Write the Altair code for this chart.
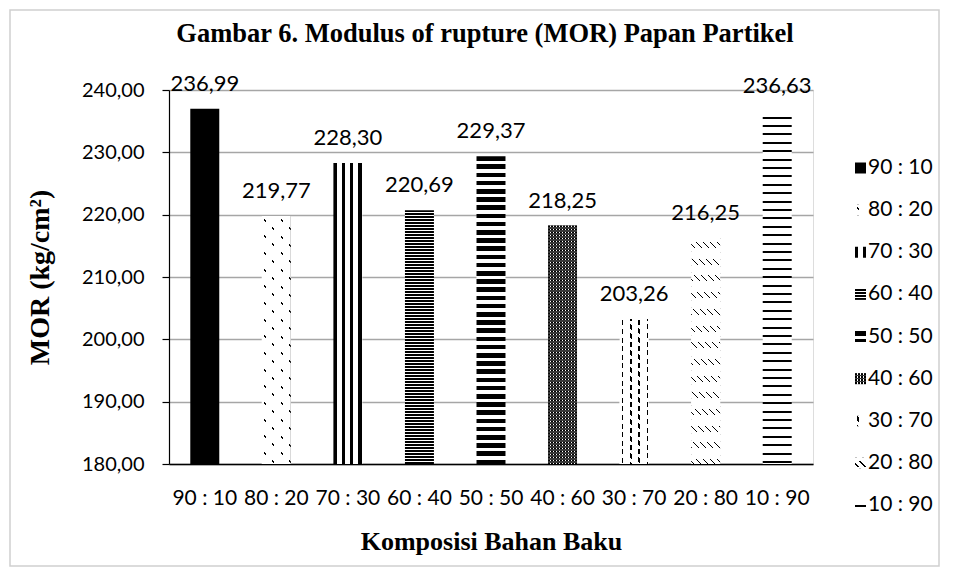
import math
import altair as alt
import pandas as pd

# ---------------- data ----------------
chart_title = "Gambar 6. Modulus of rupture (MOR) Papan Partikel"
categories = ["90 : 10", "80 : 20", "70 : 30", "60 : 40", "50 : 50",
              "40 : 60", "30 : 70", "20 : 80", "10 : 90"]
mor_values = [236.99, 219.77, 228.30, 220.69, 229.37, 218.25, 203.26, 216.25, 236.63]
y_ticks = [180, 190, 200, 210, 220, 230, 240]

value_labels = [f"{v:.2f}".replace(".", ",") for v in mor_values]
df = pd.DataFrame({"cat": categories, "value": mor_values, "label": value_labels})

# ---------------- layout / style ----------------
PLOT_W, PLOT_H = 644, 374
Y_MIN, Y_MAX = 180, 240
P_INNER = 0.595
BAND_W = PLOT_W / len(categories) * (1 - P_INNER)
B, W, T = "black", "white", "rgba(255,255,255,0)"


def stripe_grad(w, h, nx, ny, period, on, phase, on_color, off_color):
    """Linear gradient (objectBoundingBox) drawing stripes of a given pixel period."""
    corners = [(0, 0), (1, 0), (0, 1), (1, 1)]
    svals = [nx * cx * w + ny * cy * h for cx, cy in corners]
    smin, smax = min(svals), max(svals)
    S = smax - smin
    p1 = corners[svals.index(smin)]
    vx, vy = nx * w, ny * h
    c = S / (vx * vx + vy * vy)
    x1, y1 = p1
    x2, y2 = x1 + c * vx, y1 + c * vy
    stops = [(0.0, off_color)]
    k = math.floor((smin - phase) / period) - 1
    while True:
        a = phase + k * period
        b = a + on
        if a > smax:
            break
        a2, b2 = max(a, smin), min(b, smax)
        if b2 > a2:
            ta, tb = (a2 - smin) / S, (b2 - smin) / S
            stops += [(ta, off_color), (ta, on_color), (tb, on_color), (tb, off_color)]
        k += 1
    stops.append((1.0, off_color))
    return {
        "gradient": "linear",
        "x1": round(x1, 5), "y1": round(y1, 5),
        "x2": round(x2, 5), "y2": round(y2, 5),
        "stops": [{"offset": round(o, 5), "color": col} for o, col in stops],
    }


patterns = {
    "90 : 10": ["black"],
    "80 : 20": [(1, 0, 8.33, 2.0, 2.3, B, W), (-1, 1, 16.67, 2.0, 0, T, W)],
    "70 : 30": [(1, 0, 8.33, 3.3, 0, B, W)],
    "60 : 40": [(0, 1, 3.0, 1.9, 0, B, W)],
    "50 : 50": [(0, 1, 8.2, 4.6, 0, B, W)],
    "40 : 60": [(1, 0, 3.0, 1.6, 0, B, W), (0, 1, 3.0, 1.4, 0, T, "#3a3a3a")],
    "30 : 70": [(1, 0, 8.33, 1.5, 2.2, B, W), (-0.5, 1, 8.6, 5.0, 0, T, W)],
    "20 : 80": [(1, -1, 7.0, 1.8, 0, B, W), (0, 1, 16.7, 6.0, 4, T, W)],
    "10 : 90": [(0, 1, 8.4, 2.0, 5.5, B, W)],
}


def fills_for(cat, w, h):
    out = []
    for p in patterns[cat]:
        if isinstance(p, str):
            out.append(p)
        else:
            out.append(stripe_grad(w, h, *p))
    return out


# ---------------- encodings ----------------
x_enc = alt.X(
    "cat:N", sort=categories,
    scale=alt.Scale(paddingInner=P_INNER, paddingOuter=P_INNER / 2),
    axis=alt.Axis(
        title="Komposisi Bahan Baku", labelAngle=0, ticks=False, tickSize=0,
        labelPadding=34, labelBaseline="middle", labelFont="Lato", labelFontSize=21,
        labelColor="black", labelOverlap=False, domainColor="black", domainWidth=1.5,
        grid=False, titleFont="Liberation Serif", titleFontSize=26, titleFontWeight="bold",
        titleColor="black", titleX=322, titleY=77, titleBaseline="middle",
    ),
)
y_enc = alt.Y(
    "value:Q",
    scale=alt.Scale(domain=[Y_MIN, Y_MAX], nice=False, zero=False),
    axis=alt.Axis(
        values=y_ticks, title="MOR (kg/cm²)",
        labelExpr="replace(format(datum.value, '.2f'), '.', ',')",
        tickSize=7, tickColor="black", tickWidth=1.2, labelPadding=18,
        labelFont="Lato", labelFontSize=20, labelColor="black",
        domainColor="black", domainWidth=1.2,
        grid=True, gridColor="#a6a6a6", gridWidth=1.3,
        titleFont="Liberation Serif", titleFontSize=28, titleFontWeight="bold",
        titleColor="black", titleAngle=270, titleX=-129, titleY=PLOT_H / 2,
        titleAlign="center", titleBaseline="middle",
    ),
)

bar_layers = []
for cat, v in zip(categories, mor_values):
    h = (v - Y_MIN) / (Y_MAX - Y_MIN) * PLOT_H
    for f in fills_for(cat, BAND_W, h):
        bar_layers.append(
            alt.Chart(df).transform_filter(alt.datum.cat == cat)
            .mark_bar(fill=f, strokeWidth=0)
            .encode(x=x_enc, y=y_enc, y2=alt.datum(Y_MIN))
        )

text_layer = alt.Chart(df).mark_text(
    font="Lato", fontSize=22, baseline="alphabetic", dy=-18, color="black"
).encode(x=x_enc, y=y_enc, text="label:N")

main = alt.layer(*bar_layers, text_layer)

# ---------------- legend (custom, patterned swatches) ----------------
leg_y = alt.Y("cat:N", sort=categories,
              scale=alt.Scale(type="point", range=[78, 415], padding=0), axis=None)
SW = 11
legend_layers = []
for cat in categories:
    for f in fills_for(cat, SW, SW):
        legend_layers.append(
            alt.Chart(df).transform_filter(alt.datum.cat == cat)
            .mark_square(size=SW * SW, fill=f, opacity=1, strokeWidth=0)
            .encode(x=alt.value(691.5), y=leg_y)
        )
legend_text = alt.Chart(df).mark_text(
    align="left", baseline="middle", font="Lato", fontSize=21, color="black"
).encode(x=alt.value(699), y=leg_y, text="cat:N")
legend = alt.layer(*legend_layers, legend_text)

# ---------------- chart-area frame and title ----------------
frame = alt.Chart(pd.DataFrame({"f": [0]})).mark_rect(
    filled=False, stroke="#d0d0d0", strokeWidth=1.5, strokeOpacity=1
).encode(x=alt.value(-159), x2=alt.value(770), y=alt.value(-80), y2=alt.value(476))

title_layer = alt.Chart(pd.DataFrame({"t": [chart_title]})).mark_text(
    font="Liberation Serif", fontSize=26.5, fontWeight="bold", color="black",
    align="center", baseline="alphabetic"
).encode(x=alt.value(316), y=alt.value(-48), text="t:N")

chart = alt.layer(frame, title_layer, main, legend).resolve_scale(y="independent").properties(
    width=PLOT_W, height=PLOT_H,
    autosize=alt.AutoSizeParams(type="none"),
    padding={"left": 161, "top": 82, "right": 132, "bottom": 104},
).configure_view(stroke=None).configure(background="white")

chart.save("out.html", embed_options={"renderer": "svg", "actions": False})
